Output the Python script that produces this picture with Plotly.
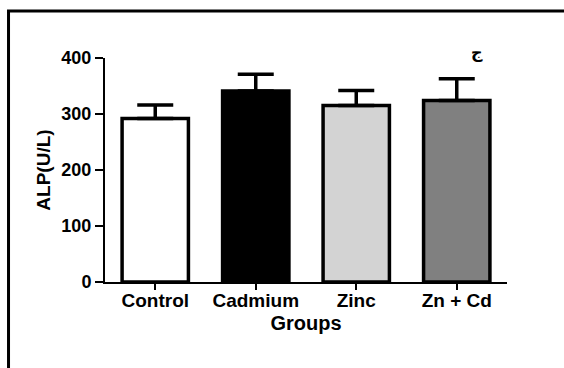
import plotly.graph_objects as go

categories = ["Control", "Cadmium", "Zinc", "Zn + Cd"]
values = [292, 341, 315, 324]
errors = [24, 30, 27, 39]
colors = ["#ffffff", "#000000", "#d3d3d3", "#808080"]
yticks = [0, 100, 200, 300, 400]

FONT = "Arial, Liberation Sans, sans-serif"

fig = go.Figure()
fig.add_trace(go.Bar(
    x=list(range(len(categories))),
    y=values,
    width=0.66,
    marker=dict(color=colors, line=dict(color="black", width=3.5)),
    error_y=dict(type="data", array=errors, arrayminus=[0] * len(errors),
                 symmetric=False, color="black", thickness=3.5, width=18),
    cliponaxis=False,
))

fig.add_annotation(x=0.925, y=1.025, xref="paper", yref="paper", text="<b>ج</b>",
                   xanchor="center", yanchor="middle",
                   showarrow=False, font=dict(family="DejaVu Sans, sans-serif", size=16, color="black"))

# outer frame
fig.add_shape(type="rect", xref="paper", yref="paper",
              x0=-0.24, x1=1.4, y0=-0.6, y1=1.21,
              line=dict(color="black", width=3), fillcolor="rgba(0,0,0,0)",
              layer="below")

fig.update_layout(
    width=564, height=368,
    margin=dict(l=105, r=57, t=58, b=86),
    paper_bgcolor="white", plot_bgcolor="white",
    showlegend=False,
    font=dict(family=FONT, color="black"),
    xaxis=dict(
        range=[-0.5, 3.5],
        tickmode="array", tickvals=list(range(len(categories))),
        ticktext=["<b>%s</b>" % c for c in categories],
        tickfont=dict(size=19, family=FONT, color="black"),
        ticks="outside", ticklen=6, tickwidth=2, tickcolor="black",
        ticklabelstandoff=-6,
        showline=True, linewidth=2, linecolor="black",
        showgrid=False, zeroline=False,
        title=dict(text="<b>Groups</b>", font=dict(size=20, family=FONT, color="black"), standoff=6),
    ),
    yaxis=dict(
        range=[0, 400],
        tickmode="array", tickvals=yticks,
        ticktext=["<b>%d</b>" % t for t in yticks],
        tickfont=dict(size=18, family=FONT, color="black"),
        ticks="outside", ticklen=8, tickwidth=2, tickcolor="black",
        showline=True, linewidth=2, linecolor="black",
        showgrid=False, zeroline=False,
        title=dict(text="<b>ALP(U/L)</b>", font=dict(size=19, family=FONT, color="black"), standoff=6),
    ),
)

fig.write_html("out.html")
